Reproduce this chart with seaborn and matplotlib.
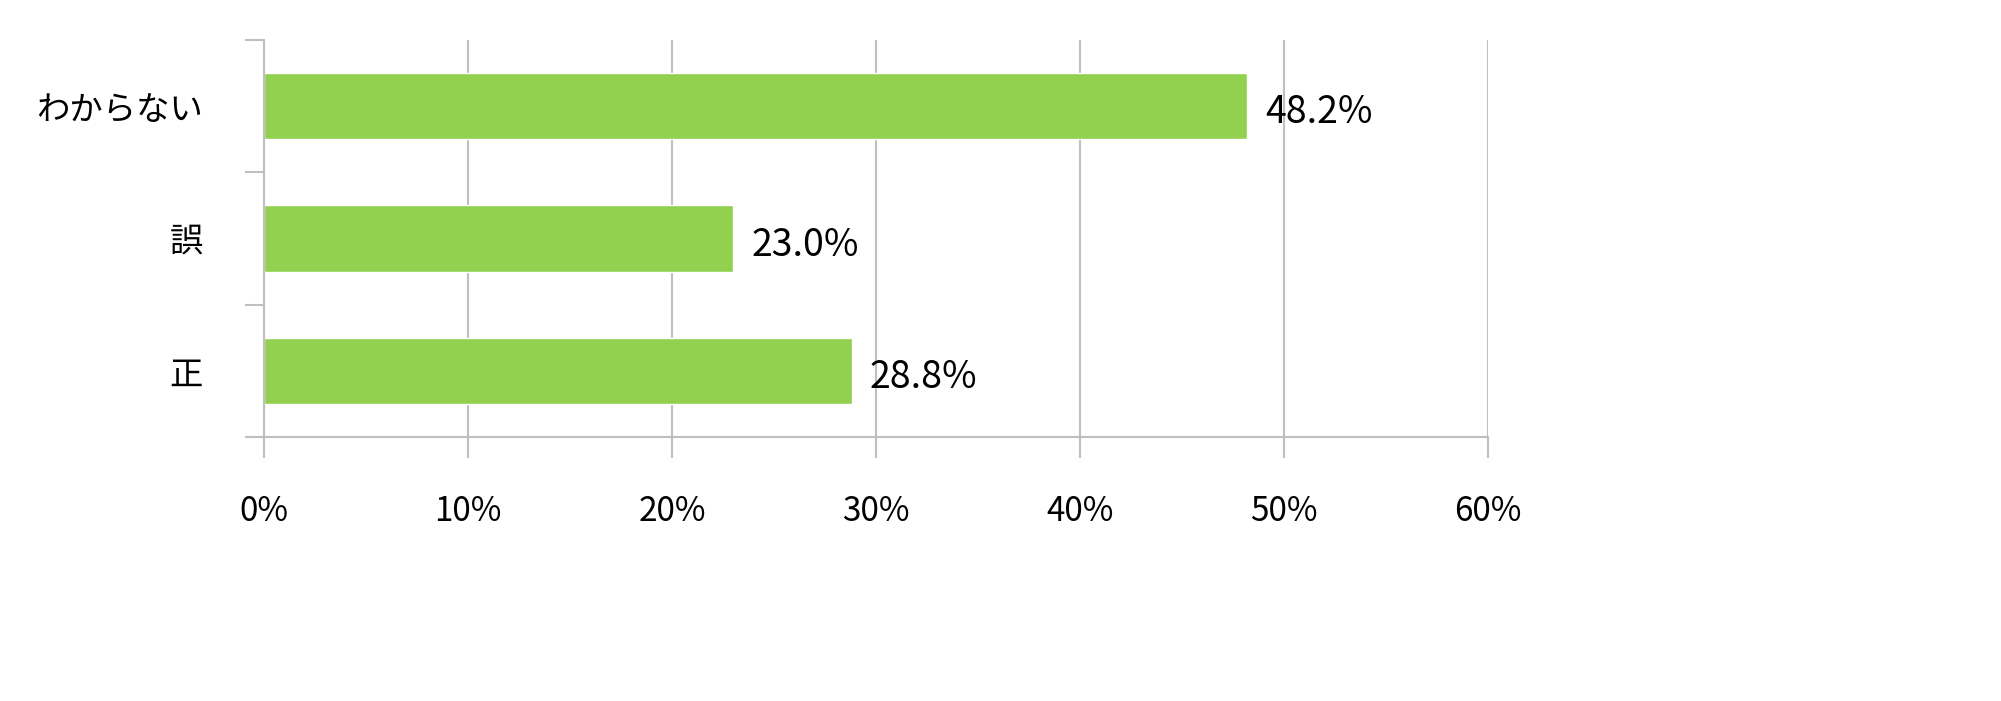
import matplotlib
matplotlib.use("Agg")
import matplotlib.pyplot as plt
import seaborn as sns
import pandas as pd

categories = ["わからない", "誤", "正"]
values = [48.2, 23.0, 28.8]
value_labels = ["48.2%", "23.0%", "28.8%"]
x_ticks = [0, 10, 20, 30, 40, 50, 60]

sns.set_style("white")
plt.rcParams['font.family'] = ['Noto Sans CJK JP', 'DejaVu Sans']
plt.rcParams['text.color'] = "black"
plt.rcParams['xtick.color'] = "black"
plt.rcParams['ytick.color'] = "black"

df = pd.DataFrame({"cat": categories, "val": values})
fig = plt.figure(figsize=(20.01, 7.01), dpi=100)
ax = fig.add_axes([264 / 2001, 1 - 437 / 701, (1488 - 264) / 2001, (437 - 40) / 701])
sns.barplot(data=df, x="val", y="cat", orient="h", color="#92d050", saturation=1, width=0.5, ax=ax)

grid = "#bfbfbf"
ax.set_xlim(0, 60)
ax.set_ylim(2.5, -0.5)
ax.set_xticks(x_ticks)
ax.set_xticklabels([f"{t}%" for t in x_ticks], fontsize=24)
ax.set_yticks(range(len(categories)))
ax.set_yticklabels(categories, fontsize=24)
ax.set_yticks([-0.5, 0.5, 1.5, 2.5], minor=True)
ax.tick_params(axis="y", which="major", left=False, length=0, pad=44)
ax.tick_params(axis="y", which="minor", left=True, length=14, color=grid, width=1.5)
ax.tick_params(axis="x", bottom=True, length=15, color=grid, width=1.5, pad=26)
ax.xaxis.grid(True, color=grid, linewidth=1.5)
ax.set_axisbelow(True)
for s in ["top", "right"]:
    ax.spines[s].set_visible(False)
for s in ["left", "bottom"]:
    ax.spines[s].set_color(grid)
    ax.spines[s].set_linewidth(1.5)
ax.set_xlabel("")
ax.set_ylabel("")

for i, (v, lab) in enumerate(zip(values, value_labels)):
    ax.text(v + 0.9, i + 0.05, lab, va="center", ha="left", fontsize=27)

fig.savefig("out.png", dpi=100)
